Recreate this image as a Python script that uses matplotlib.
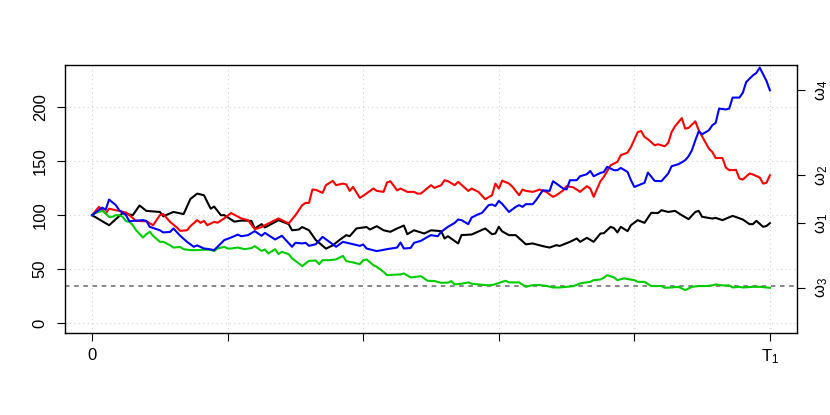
import matplotlib
matplotlib.use('Agg')
import matplotlib.pyplot as plt

# ---- data ----
black_t = [0, 5, 9, 12, 14, 16, 20, 21, 24, 27, 29, 31, 33, 35, 36, 38, 39, 42, 44, 47, 48, 50, 51, 55, 58, 59, 61, 62, 64, 66, 69, 71, 73, 75, 76, 78, 81, 82, 84, 86, 88, 90, 92, 93, 95, 98, 100, 103, 104, 105, 108, 109, 112, 116, 118, 119, 120, 121, 123, 125, 128, 130, 133, 135, 137, 138, 141, 143, 144, 146, 148, 150, 151, 153, 154, 155, 156, 158, 159, 161, 163, 165, 167, 168, 170, 172, 174, 176, 178, 179, 180, 183, 184, 186, 189, 192, 194, 195, 196, 198, 199, 200]
black_v = [100, 90.7, 101.9, 100, 109, 104, 103, 99, 103, 101, 115, 120, 118.5, 106, 108, 100, 100, 94, 95, 94.7, 87.7, 91.7, 88.6, 95.4, 91.7, 86, 86.7, 89, 86, 77, 69, 72, 77, 81.5, 80.5, 87.7, 89, 86.7, 89.8, 86, 84.6, 87.7, 90.4, 82.4, 86, 83, 86, 85.2, 78.4, 80.5, 73.8, 81.5, 82.1, 87.7, 82.4, 83, 89.2, 85, 81.5, 81.5, 73, 73.8, 71.3, 70, 72.2, 71.5, 75.3, 78.4, 75.3, 79, 75.3, 83, 83.3, 89.2, 88, 84, 89.2, 85.2, 90.7, 95.4, 92.9, 102.2, 102, 104.6, 103, 104, 100, 96.3, 103, 104, 98.5, 96.9, 97.5, 95.4, 99.4, 96, 91.7, 91.7, 94.8, 89.2, 90, 92.6]

red_t = [0, 2, 3, 4, 5, 7, 10, 11, 13, 15, 16, 18, 20, 21, 23, 25, 26, 28, 29, 31, 32, 33, 34, 36, 37, 39, 41, 44, 46, 48, 50, 51, 55, 58, 60, 62, 63, 64, 65, 66, 68, 69, 71, 72, 74, 75, 76, 77, 79, 80, 82, 83, 84, 86, 87, 88, 90, 91, 93, 95, 96, 97, 100, 101, 103, 104, 105, 107, 108, 111, 112, 114, 116, 118, 119, 120, 121, 123, 124, 126, 127, 128, 130, 131, 132, 134, 136, 137, 139, 140, 142, 144, 146, 147, 148, 150, 151, 153, 155, 156, 158, 159, 160, 161, 162, 163, 164, 166, 167, 169, 170, 171, 172, 174, 175, 176, 178, 179, 180, 182, 183, 184, 186, 187, 188, 190, 191, 192, 194, 195, 197, 198, 199, 200]
red_v = [100, 107.7, 105, 101.6, 106, 104.6, 102.5, 100, 94.7, 94.4, 94.4, 90.7, 100, 101, 93.8, 88.6, 85.5, 86, 89.8, 95.4, 92.9, 94.7, 90.7, 93.8, 93, 97, 102, 97, 95.4, 87, 89, 90.7, 97, 92.3, 100, 109.3, 111.4, 111.4, 123.8, 123.5, 120.7, 127.8, 131.8, 127.8, 129.3, 128.5, 122.5, 126.2, 116, 118, 122.5, 124.7, 122.5, 121.6, 130.2, 131.5, 123, 124.7, 121.6, 121.6, 120, 120, 127.8, 125.3, 127.8, 132.4, 131.5, 127.8, 130.9, 122.5, 124.7, 121.6, 114.8, 118.5, 129.3, 124.7, 132, 129.3, 126.5, 118.5, 123.8, 122.5, 121.6, 122.5, 123.8, 121.6, 117, 118.5, 123, 126.9, 125.8, 121.6, 126.9, 124.7, 117, 131.5, 135.5, 146.3, 149.4, 155.6, 158, 163.2, 170, 177, 178, 172.5, 170.4, 164.8, 165.7, 163.9, 167, 177, 182.4, 190, 180.2, 180.9, 187, 178.7, 173, 161.7, 158.6, 153, 153, 144.2, 141.7, 142, 134, 133, 138.6, 137.7, 134.9, 129.3, 130, 137]

blue_t = [0, 2, 3, 4, 5, 7, 8, 10, 11, 12, 15, 16, 17, 20, 21, 23, 24, 26, 28, 30, 31, 33, 34, 36, 37, 38, 39, 41, 43, 44, 46, 48, 50, 51, 52, 54, 56, 57, 59, 60, 62, 63, 64, 66, 68, 70, 72, 74, 76, 79, 80, 81, 84, 87, 90, 91, 92, 94, 95, 97, 99, 100, 102, 103, 105, 107, 108, 109, 111, 112, 114, 115, 117, 118, 119, 120, 121, 123, 125, 126, 127, 128, 130, 131, 133, 135, 136, 137, 139, 140, 141, 143, 144, 146, 147, 148, 150, 151, 152, 154, 155, 156, 158, 159, 160, 162, 163, 164, 166, 168, 170, 171, 173, 175, 176, 177, 178, 179, 180, 182, 183, 184, 185, 187, 188, 189, 191, 192, 193, 195, 196, 197, 199, 200]
blue_v = [100, 104.6, 107, 105, 114.5, 109.3, 104.6, 100, 94.4, 94.7, 95.4, 94.7, 89.2, 86, 84, 84.5, 87.7, 80.9, 75.3, 70.7, 72, 69.1, 68.8, 67.6, 70.7, 73.8, 76.9, 79.3, 82, 80.5, 81.5, 85.2, 80.9, 83.6, 81.5, 77.5, 80.9, 77.5, 70.7, 74.4, 73.8, 74.4, 71.6, 73.1, 79.9, 75.3, 70.7, 75.3, 73.8, 71.6, 72.8, 69.1, 66.7, 68.5, 70, 74.7, 69.1, 69.6, 74.4, 76.2, 79.9, 81.5, 80.5, 84.6, 89.2, 92.9, 96, 95.4, 91.7, 97.9, 100.9, 102, 109.3, 109.9, 108.5, 113.3, 110.5, 103, 107.7, 109.3, 107.7, 110.2, 110.2, 113.9, 123, 122.5, 131.5, 129.3, 124.7, 123.8, 132.4, 132.4, 136.1, 138, 141, 136.1, 139.2, 140, 144.8, 141.7, 141.7, 143.8, 140.1, 132.4, 126.2, 128.7, 130, 139.5, 131.8, 131.5, 138.6, 145.4, 147.2, 150.9, 154.6, 160.2, 169.4, 177.8, 175, 178.7, 183.3, 185.5, 198.8, 198, 198.8, 209, 209, 213.3, 223.4, 229.6, 231.8, 236.8, 224.4, 215.7]

green_t = [0, 1, 3, 4, 5, 6, 7, 8, 9, 10, 11, 12, 13, 15, 16, 17, 18, 20, 21, 23, 24, 26, 27, 29, 31, 33, 35, 36, 37, 39, 40, 41, 43, 45, 47, 48, 50, 51, 52, 54, 55, 56, 58, 59, 61, 62, 63, 64, 66, 67, 68, 70, 72, 74, 75, 77, 79, 80, 81, 83, 84, 86, 87, 89, 91, 92, 94, 96, 97, 99, 101, 103, 105, 106, 107, 109, 111, 112, 114, 116, 118, 119, 121, 122, 123, 126, 128, 130, 132, 134, 136, 138, 140, 142, 144, 145, 147, 148, 150, 151, 152, 154, 155, 157, 158, 160, 161, 163, 165, 168, 169, 171, 173, 175, 177, 179, 181, 183, 184, 186, 188, 189, 191, 192, 195, 197, 200]
green_v = [100, 102.1, 104, 101.6, 98.5, 98.5, 100, 100, 98.5, 94.4, 94, 90.7, 86, 79.3, 82.4, 84.6, 80.9, 75.3, 75.3, 72.2, 70, 70.5, 68.5, 67.6, 67.6, 68, 68, 66.7, 69.1, 70.7, 69.1, 69.1, 70, 68.5, 69.5, 71.3, 66.9, 68.2, 64.5, 68.5, 63.9, 66, 63.9, 59.9, 55.3, 52.8, 55.3, 57.7, 58, 54.6, 58.3, 58.3, 59, 62.3, 57.4, 56.2, 54.6, 58.3, 59, 53.7, 52.1, 47.5, 44.4, 44.8, 45.1, 46, 42.3, 43, 43.5, 39.2, 39, 37.3, 37.5, 38.9, 35.8, 36.5, 37.7, 36.5, 35.8, 35.2, 35.2, 36.1, 38.2, 39.2, 37.7, 37.7, 33.6, 35.2, 35.2, 34.5, 33, 33, 33.6, 34.2, 36.7, 37.3, 38.2, 39.8, 40.4, 42, 44.4, 42.3, 39.8, 41.4, 40.8, 39.8, 38.2, 38.2, 34.3, 34.3, 32.7, 33, 33.6, 30.6, 33.6, 34.3, 34.3, 34.9, 35.8, 34.9, 34.9, 33, 33.6, 33, 33.6, 33.6, 32.7]

series = [(black_t, black_v, 'black'), (red_t, red_v, 'red'),
          (green_t, green_v, '#00CD00'), (blue_t, blue_v, 'blue')]
omega_labels = [r'$\omega_1$', r'$\omega_2$', r'$\omega_3$', r'$\omega_4$']

x_ticks = [0, 40, 80, 120, 160, 200]
x_labels = ['0', '', '', '', '', r'$T_1$']
y_ticks = [0, 50, 100, 150, 200]
threshold = 34.5
x_range = (0, 200)
y_range = (0, 230)

# ---- style ----
plt.rcParams['font.family'] = ['Liberation Sans', 'DejaVu Sans']
plt.rcParams['mathtext.default'] = 'regular'
plt.rcParams['font.size'] = 12

fig = plt.figure(figsize=(8.3, 4.15), dpi=100)
ax = fig.add_axes([65 / 830, 1 - 333 / 415, (797 - 65) / 830, (333 - 65) / 415])

pad = 0.04
xr = x_range[1] - x_range[0]
yr = y_range[1] - y_range[0]
ax.set_xlim(x_range[0] - pad * xr, x_range[1] + pad * xr)
ax.set_ylim(y_range[0] - pad * yr, y_range[1] + pad * yr)

# grid
for xt in x_ticks:
    ax.axvline(xt, color='lightgray', linestyle=(0, (1, 3)), linewidth=0.8, zorder=0)
for yt in y_ticks:
    ax.axhline(yt, color='lightgray', linestyle=(0, (1, 3)), linewidth=0.8, zorder=0)

for t, v, c in series:
    ax.plot(t, v, color=c, linewidth=1.5, solid_joinstyle='round', zorder=3)

ax.axhline(threshold, color='#666666', linestyle=(0, (3, 3)), linewidth=1.1, zorder=2)

ax.set_xticks(x_ticks)
ax.set_xticklabels(x_labels)
ax.set_yticks(y_ticks)
ax.set_yticklabels([str(v) for v in y_ticks])
ax.tick_params(axis='x', direction='out', length=5.5, width=0.8, pad=5)
ax.tick_params(axis='y', direction='out', length=5.5, width=0.8, pad=7)
for lbl in ax.get_yticklabels():
    lbl.set_rotation(90)
    lbl.set_va('center')

for sp in ax.spines.values():
    sp.set_linewidth(1.0)
    sp.set_color('black')

# right axis at final values
ax2 = ax.twinx()
ax2.set_ylim(ax.get_ylim())
finals = [black_v[-1], red_v[-1], green_v[-1], blue_v[-1]]
ax2.set_yticks(finals)
ax2.set_yticklabels(omega_labels)
ax2.tick_params(axis='y', direction='out', length=5.5, width=0.8, pad=6)
for lbl in ax2.get_yticklabels():
    lbl.set_rotation(90)
    lbl.set_va('center')
for sp in ax2.spines.values():
    sp.set_visible(False)

fig.savefig('out.png', dpi=100)
